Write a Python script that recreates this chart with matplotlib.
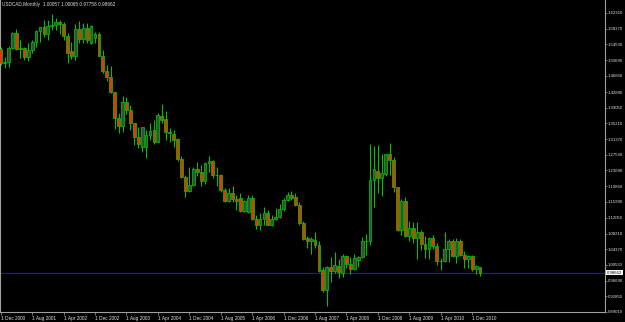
import matplotlib
matplotlib.use("Agg")
import matplotlib.pyplot as plt
import numpy as np
import pandas as pd

# USDCAD monthly candles, Dec 2000 .. Feb 2011
first_month = "2000-12-01"
opens = [
    1.5335, 1.4992, 1.5030, 1.5367, 1.5741, 1.5335, 1.5374, 1.5153, 1.5318, 1.5506,
    1.5783, 1.5874, 1.5702, 1.5913, 1.5935, 1.5996, 1.5955, 1.5668, 1.5300, 1.5170,
    1.5832, 1.5580, 1.5849, 1.5482, 1.5620, 1.5710, 1.5178, 1.4810, 1.4663, 1.4281,
    1.3659, 1.3455, 1.4036, 1.3848, 1.3522, 1.3193, 1.2950, 1.2948, 1.3235, 1.3358,
    1.3071, 1.3701, 1.3628, 1.3316, 1.3252, 1.3137, 1.2640, 1.2210, 1.1870, 1.2020,
    1.2400, 1.2320, 1.2100, 1.2560, 1.2590, 1.2260, 1.2250, 1.1890, 1.1620, 1.1807,
    1.1667, 1.1684, 1.1373, 1.1356, 1.1684, 1.1175, 1.1030, 1.1170, 1.1331, 1.1030,
    1.1177, 1.1226, 1.1431, 1.1643, 1.1765, 1.1708, 1.1518, 1.1086, 1.0704, 1.0645,
    1.0663, 1.0540, 0.9928, 0.9438, 1.0009, 0.9910, 1.0026, 0.9862, 1.0270, 1.0075,
    0.9945, 1.0165, 1.0254, 1.0630, 1.0650, 1.2133, 1.2360, 1.2174, 1.2272, 1.2769,
    1.2623, 1.1954, 1.0908, 1.1625, 1.0761, 1.0956, 1.0703, 1.0866, 1.0565, 1.0452,
    1.0704, 1.0516, 1.0155, 1.0149, 1.0435, 1.0638, 1.0272, 1.0646, 1.0295, 1.0190,
    1.0271, 0.9945, 1.0006,
]
highs = [
    1.5391, 1.5150, 1.5416, 1.5766, 1.5825, 1.5563, 1.5384, 1.5482, 1.5563, 1.5808,
    1.5888, 1.6053, 1.6053, 1.6200, 1.6094, 1.6053, 1.6011, 1.5734, 1.5506, 1.5955,
    1.6035, 1.5972, 1.5972, 1.5920, 1.5770, 1.5760, 1.5318, 1.4950, 1.4926, 1.4296,
    1.3781, 1.4191, 1.4159, 1.3970, 1.3530, 1.3424, 1.3440, 1.3358, 1.3522, 1.3603,
    1.3781, 1.3994, 1.3831, 1.3407, 1.3358, 1.3160, 1.2730, 1.2260, 1.2460, 1.2440,
    1.2570, 1.2500, 1.2580, 1.2720, 1.2620, 1.2450, 1.2280, 1.1940, 1.1940, 1.1986,
    1.1765, 1.1807, 1.1643, 1.1765, 1.1765, 1.1273, 1.1331, 1.1478, 1.1398, 1.1273,
    1.1440, 1.1533, 1.1684, 1.1846, 1.1871, 1.1814, 1.1592, 1.1120, 1.0761, 1.0736,
    1.0858, 1.0630, 1.0009, 1.0026, 1.0254, 1.0376, 1.0190, 1.0320, 1.0295, 1.0239,
    1.0320, 1.0271, 1.0736, 1.0819, 1.3015, 1.2966, 1.2990, 1.2770, 1.2770, 1.3046,
    1.2704, 1.1955, 1.1660, 1.1724, 1.1135, 1.1111, 1.1111, 1.0908, 1.0761, 1.0736,
    1.0778, 1.0582, 1.0214, 1.0866, 1.0680, 1.0680, 1.0704, 1.0680, 1.0401, 1.0295,
    1.0295, 1.0050, 1.0007,
]
lows = [
    1.4950, 1.4870, 1.4901, 1.5335, 1.5318, 1.5114, 1.5073, 1.5048, 1.5237, 1.5398,
    1.5521, 1.5643, 1.5563, 1.5808, 1.5808, 1.5710, 1.5563, 1.5006, 1.5090, 1.5073,
    1.5489, 1.5482, 1.5482, 1.5470, 1.5480, 1.5170, 1.4754, 1.4565, 1.4257, 1.3382,
    1.3291, 1.3316, 1.3749, 1.3358, 1.2990, 1.2909, 1.2830, 1.2672, 1.3113, 1.3026,
    1.3064, 1.3536, 1.3113, 1.3071, 1.2948, 1.2610, 1.2190, 1.1710, 1.1840, 1.1990,
    1.2230, 1.1980, 1.2040, 1.2330, 1.2170, 1.1990, 1.1850, 1.1590, 1.1600, 1.1601,
    1.1398, 1.1356, 1.1361, 1.1316, 1.1153, 1.0925, 1.0900, 1.1030, 1.1020, 1.1000,
    1.1150, 1.1194, 1.1380, 1.1619, 1.1643, 1.1502, 1.1030, 1.0656, 1.0459, 1.0329,
    1.0459, 0.9886, 0.9397, 0.9046, 0.9641, 0.9846, 0.9724, 0.9749, 0.9969, 0.9830,
    0.9930, 0.9994, 1.0221, 1.0295, 1.0540, 1.1464, 1.1806, 1.1741, 1.2231, 1.2248,
    1.1847, 1.0890, 1.0790, 1.0736, 1.0634, 1.0582, 1.0206, 1.0418, 1.0231, 1.0190,
    1.0452, 1.0050, 0.9928, 1.0124, 1.0124, 1.0240, 1.0107, 1.0271, 0.9969, 0.9969,
    0.9910, 0.9830, 0.9776,
]
closes = [
    1.4992, 1.5030, 1.5367, 1.5741, 1.5335, 1.5374, 1.5153, 1.5318, 1.5506, 1.5783,
    1.5874, 1.5702, 1.5913, 1.5935, 1.5996, 1.5955, 1.5668, 1.5251, 1.5170, 1.5832,
    1.5580, 1.5849, 1.5563, 1.5906, 1.5710, 1.5178, 1.4810, 1.4663, 1.4281, 1.3659,
    1.3455, 1.4036, 1.3848, 1.3522, 1.3193, 1.3007, 1.3424, 1.3235, 1.3340, 1.3071,
    1.3725, 1.3603, 1.3316, 1.3291, 1.3113, 1.2640, 1.2210, 1.1870, 1.2020, 1.2400,
    1.2320, 1.2100, 1.2560, 1.2590, 1.2260, 1.2250, 1.1890, 1.1620, 1.1807, 1.1660,
    1.1618, 1.1380, 1.1618, 1.1699, 1.1170, 1.1030, 1.1170, 1.1336, 1.1030, 1.1177,
    1.1226, 1.1431, 1.1643, 1.1765, 1.1699, 1.1518, 1.1086, 1.0680, 1.0645, 1.0680,
    1.0540, 0.9910, 0.9438, 0.9994, 0.9910, 1.0050, 0.9886, 1.0270, 1.0075, 0.9945,
    1.0214, 1.0254, 1.0646, 1.0650, 1.2133, 1.2395, 1.2174, 1.2297, 1.2769, 1.2623,
    1.1954, 1.0908, 1.1625, 1.0761, 1.0956, 1.0703, 1.0866, 1.0565, 1.0452, 1.0704,
    1.0516, 1.0155, 1.0149, 1.0435, 1.0638, 1.0272, 1.0646, 1.0295, 1.0190, 1.0271,
    0.9945, 1.0026, 0.9866,
]

price_ticks = [1.62310, 1.58370, 1.54530, 1.50690, 1.46850, 1.42890, 1.39050,
               1.35210, 1.31370, 1.27530, 1.23690, 1.19850, 1.15990, 1.12050,
               1.08210, 1.04370, 1.00530, 0.96690, 0.92850, 0.89010]
header = "USDCAD,Monthly  1.00057 1.00065 0.97758 0.98662"
last_price = 0.98662
date_step = 8

BG = "black"
FG = "#e0e0e0"
AXIS = "#a0a0a0"
WICK = "#00c400"
BEAR = "#e8360c"
BULL = "#34503c"
FONT = "Liberation Sans"
FS = 3.4
FS_PRICE = 3.05

o = np.array(opens)
h = np.array(highs)
l = np.array(lows)
c = np.array(closes)
x = np.arange(len(o))
months = pd.date_range(first_month, periods=len(o), freq="MS")

fig = plt.figure(figsize=(6.25, 3.22), dpi=100, facecolor=BG)
ax = fig.add_axes([0, 10 / 322, 605 / 625, 312 / 322], facecolor=BG)

ax.vlines(x, l, h, color=WICK, linewidth=0.75, zorder=2)
up = c >= o
body_lo = np.minimum(o, c)
body_h = np.maximum(np.abs(c - o), 0.0006)
ax.bar(x[up], body_h[up], bottom=body_lo[up], width=0.72, color=BULL,
       edgecolor=WICK, linewidth=0.55, zorder=3)
ax.bar(x[~up], body_h[~up], bottom=body_lo[~up], width=0.72, color=BEAR,
       edgecolor=WICK, linewidth=0.55, zorder=3)

ax.axhline(last_price, color="#1a1aa8", linewidth=0.9, zorder=1)

ax.set_xlim(-0.18, 153.8)
ax.set_ylim(0.8899, 1.6543)

ax.spines["top"].set_visible(False)
for side in ["left", "right", "bottom"]:
    ax.spines[side].set_color(AXIS)
    ax.spines[side].set_linewidth(0.8)

ax.yaxis.tick_right()
ax.set_yticks(price_ticks)
ax.set_yticklabels([f"{v:.5f}" for v in price_ticks])
ax.tick_params(axis="y", colors=AXIS, length=1.5, width=0.5, pad=0.6,
               labelcolor=FG, labelsize=FS_PRICE)

xt = x[::date_step]
ax.set_xticks(xt)
ax.set_xticklabels([f"{d.day} {d:%b %Y}" for d in months[::date_step]],
                   ha="left")
ax.tick_params(axis="x", colors=AXIS, length=2, width=0.5, pad=1,
               labelcolor=FG, labelsize=FS)
for lab in ax.get_xticklabels() + ax.get_yticklabels():
    lab.set_family(FONT)

ax.text(1.003, last_price, f"{last_price:.5f}", transform=ax.get_yaxis_transform(),
        ha="left", va="center", fontsize=FS_PRICE, family=FONT, color="black",
        bbox=dict(boxstyle="square,pad=0.12", fc="white", ec="white", lw=0),
        clip_on=False, zorder=5)

ax.text(0.004, 0.992, header, transform=ax.transAxes, ha="left", va="top",
        fontsize=FS, family=FONT, color=FG)

fig.savefig("out.png", dpi=100, facecolor=BG)
